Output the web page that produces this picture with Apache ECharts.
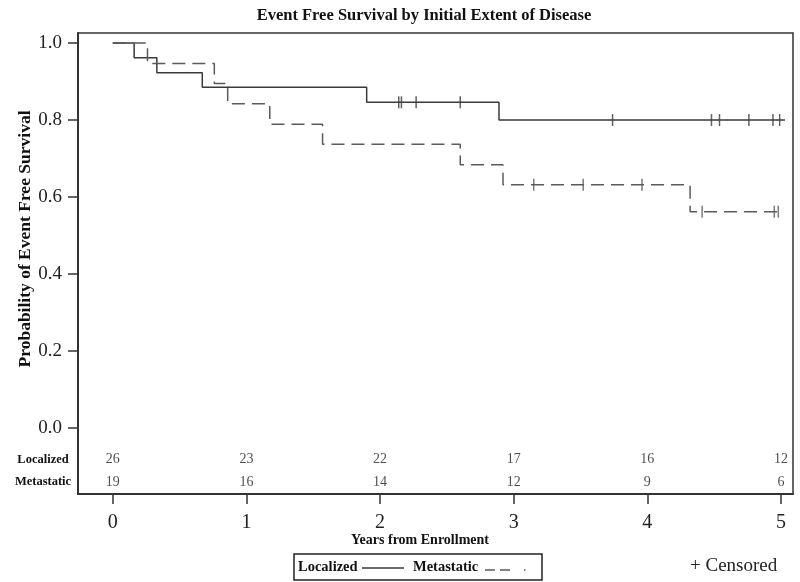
<!DOCTYPE html>
<html>
<head>
<meta charset="utf-8">
<script src="https://cdn.jsdelivr.net/npm/echarts@6/dist/echarts.min.js"></script>
<style>
html,body{margin:0;padding:0;background:#fff;}
#chart{width:800px;height:582px;}
</style>
</head>
<body>
<div id="chart"></div>
<script>
// ---- data ----
var titleText = 'Event Free Survival by Initial Extent of Disease';
var groupNames = ['Localized', 'Metastatic'];
var xTicks = [0, 1, 2, 3, 4, 5];
var yTicks = [0, 0.2, 0.4, 0.6, 0.8, 1.0];

var locTimes = [0, 0.16, 0.33, 0.67, 1.90, 2.89, 5.03];
var locSurv  = [1.0, 0.962, 0.923, 0.885, 0.846, 0.800, 0.800];
var locCensor = [2.14, 2.16, 2.27, 2.60, 3.74, 4.48, 4.54, 4.76, 4.94, 4.99];

var metTimes = [0, 0.26, 0.76, 0.86, 1.175, 1.57, 2.60, 2.92, 4.32, 5.01];
var metSurv  = [1.0, 0.947, 0.895, 0.842, 0.789, 0.737, 0.684, 0.632, 0.562, 0.562];
var metCensor = [3.15, 3.52, 3.96, 4.41, 4.95, 4.98];

var atRiskTimes = [0, 1, 2, 3, 4, 5];
var locAtRisk = [26, 23, 22, 17, 16, 12];
var metAtRisk = [19, 16, 14, 12, 9, 6];

// ---- helpers ----
function pairs(t, s) { return t.map(function (v, i) { return [v, s[i]]; }); }
function survAt(t, times, surv) {
  var v = surv[0];
  for (var i = 0; i < times.length; i++) { if (times[i] <= t) v = surv[i]; }
  return v;
}
function censorPts(c, times, surv) { return c.map(function (t) { return [t, survAt(t, times, surv)]; }); }
function riskPts(vals, yRow) { return atRiskTimes.map(function (t, i) { return { value: [t, yRow], n: vals[i] }; }); }

var serif = 'Liberation Serif';
var solidColor = '#3a3a3a';
var dashColor = '#5a5a5a';

var chart = echarts.init(document.getElementById('chart'), null, { renderer: 'canvas' });
var option = {
  animation: false,
  backgroundColor: '#fff',
  grid: { left: 78, top: 33, right: 7, bottom: 88, show: true, borderColor: '#333', borderWidth: 1.5, backgroundColor: 'transparent' },
  xAxis: {
    type: 'value', min: -0.26, max: 5.09,
    splitLine: { show: false },
    axisLine: { show: true, onZero: false, lineStyle: { color: '#333', width: 2 } },
    axisTick: { show: true, inside: false, customValues: xTicks, length: 10, lineStyle: { color: '#333', width: 1.5 } },
    axisLabel: { customValues: xTicks, margin: 19, fontFamily: serif, fontSize: 20, color: '#222' }
  },
  yAxis: {
    type: 'value', min: -0.171, max: 1.026,
    splitLine: { show: false },
    axisLine: { show: true, onZero: false, lineStyle: { color: '#333', width: 2 } },
    axisTick: { show: true, inside: false, customValues: yTicks, length: 10, lineStyle: { color: '#333', width: 1.5 } },
    axisLabel: { customValues: yTicks, margin: 16, fontFamily: serif, fontSize: 19, color: '#222',
      formatter: function (v) { return v.toFixed(1); } }
  },
  series: [
    { name: groupNames[0], type: 'line', step: 'end', data: pairs(locTimes, locSurv), showSymbol: false, symbol: 'none',
      lineStyle: { color: solidColor, width: 1.5 } },
    { name: groupNames[1], type: 'line', step: 'end', data: pairs(metTimes, metSurv), showSymbol: false, symbol: 'none',
      lineStyle: { color: dashColor, width: 1.5, type: [13, 7] } },
    { type: 'scatter', data: censorPts(locCensor, locTimes, locSurv), symbol: 'rect', symbolSize: [1.5, 12],
      itemStyle: { color: solidColor } },
    { type: 'scatter', data: censorPts(metCensor, metTimes, metSurv), symbol: 'rect', symbolSize: [1.5, 12],
      itemStyle: { color: dashColor } },
    { type: 'scatter', data: riskPts(locAtRisk, -0.081), symbolSize: 1, itemStyle: { color: 'rgba(0,0,0,0)' },
      label: { show: true, position: 'inside', fontFamily: serif, fontSize: 14, color: '#222',
        formatter: function (p) { return String(p.data.n); } } },
    { type: 'scatter', data: riskPts(metAtRisk, -0.140), symbolSize: 1, itemStyle: { color: 'rgba(0,0,0,0)' },
      label: { show: true, position: 'inside', fontFamily: serif, fontSize: 14, color: '#222',
        formatter: function (p) { return String(p.data.n); } } }
  ],
  graphic: [
    { type: 'text', x: 424, y: 16, style: { text: titleText, font: 'bold 16.5px "Liberation Serif"', fill: '#111', textAlign: 'center', textVerticalAlign: 'middle' } },
    { type: 'text', x: 25, y: 239, rotation: Math.PI / 2, style: { text: 'Probability of Event Free Survival', font: 'bold 17.5px "Liberation Serif"', fill: '#111', textAlign: 'center', textVerticalAlign: 'middle' } },
    { type: 'text', x: 420, y: 540, style: { text: 'Years from Enrollment', font: 'bold 14px "Liberation Serif"', fill: '#111', textAlign: 'center', textVerticalAlign: 'middle' } },
    { type: 'text', x: 43, y: 460, style: { text: groupNames[0], font: 'bold 12.5px "Liberation Serif"', fill: '#111', textAlign: 'center', textVerticalAlign: 'middle' } },
    { type: 'text', x: 43, y: 482, style: { text: groupNames[1], font: 'bold 12.5px "Liberation Serif"', fill: '#111', textAlign: 'center', textVerticalAlign: 'middle' } },
    // legend box
    { type: 'rect', shape: { x: 294, y: 554, width: 248, height: 26 }, style: { fill: '#fff', stroke: '#222', lineWidth: 1.5 } },
    { type: 'text', x: 298, y: 567, style: { text: groupNames[0], font: 'bold 14.5px "Liberation Serif"', fill: '#111', textAlign: 'left', textVerticalAlign: 'middle' } },
    { type: 'line', shape: { x1: 362, y1: 568, x2: 404, y2: 568 }, style: { stroke: solidColor, lineWidth: 1.3 } },
    { type: 'text', x: 413, y: 567, style: { text: groupNames[1], font: 'bold 14.5px "Liberation Serif"', fill: '#111', textAlign: 'left', textVerticalAlign: 'middle' } },
    { type: 'line', shape: { x1: 485, y1: 570, x2: 527, y2: 570 }, style: { stroke: dashColor, lineWidth: 1.3, lineDash: [10, 5, 10, 14, 1.5, 100] } },
    { type: 'text', x: 690, y: 566, style: { text: '+ Censored', font: '19px "Liberation Serif"', fill: '#222', textAlign: 'left', textVerticalAlign: 'middle' } }
  ]
};
chart.setOption(option);
</script>
</body>
</html>
